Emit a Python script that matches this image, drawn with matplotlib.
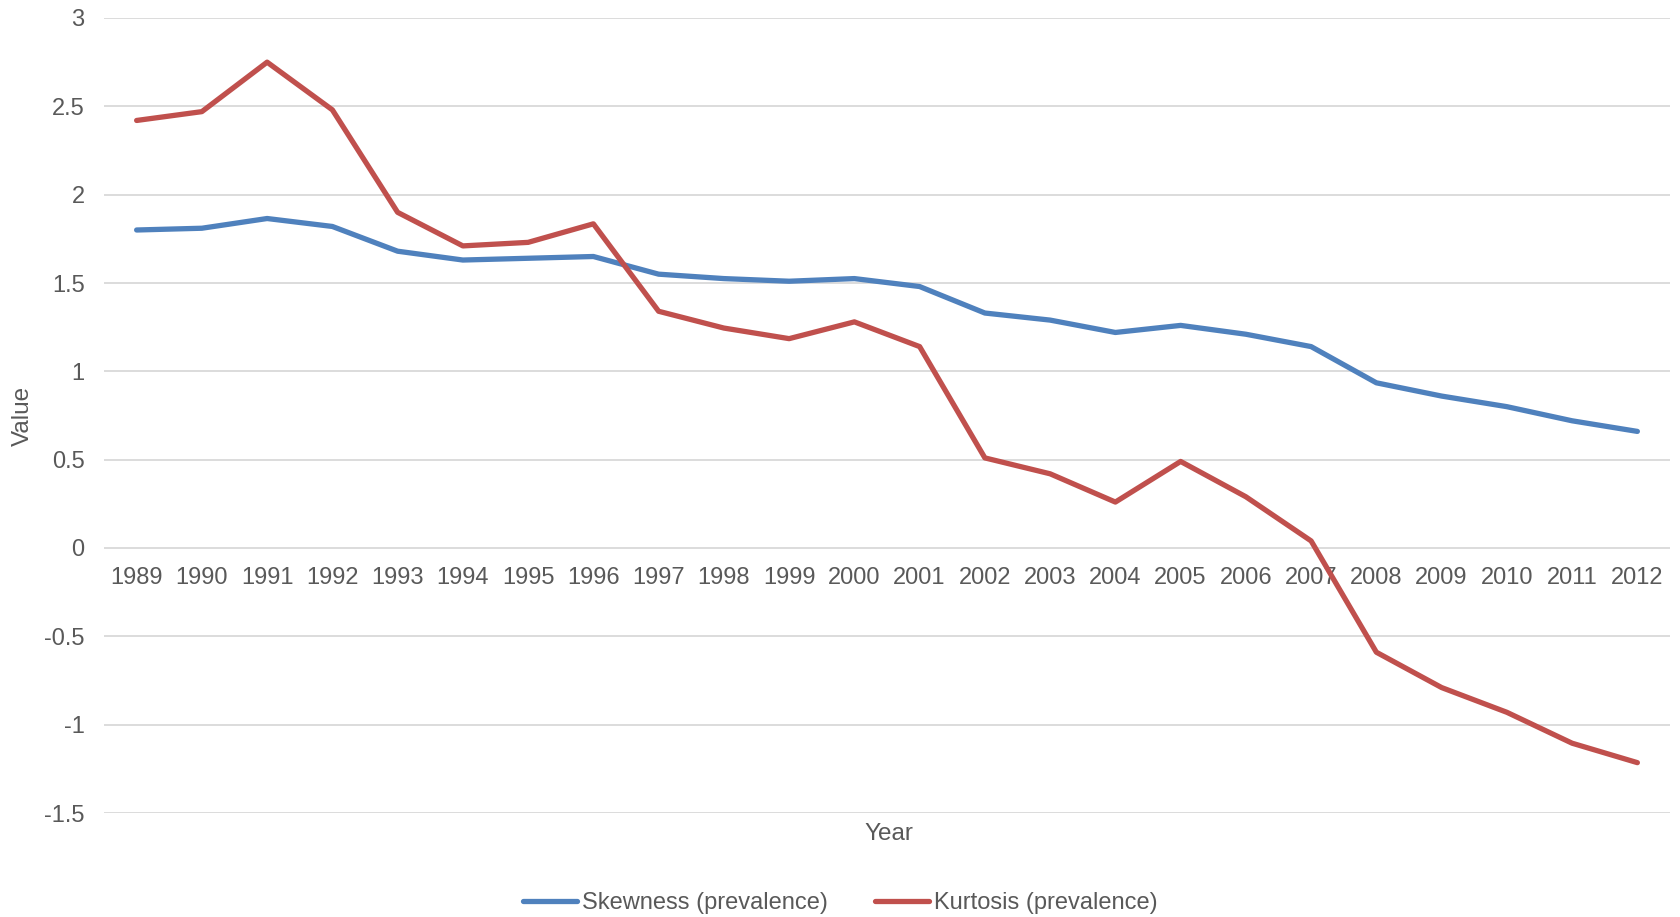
import numpy as np
import matplotlib
matplotlib.use('Agg')
import matplotlib.pyplot as plt

plt.rcParams['font.family'] = ['Liberation Sans', 'DejaVu Sans']

years = [str(y) for y in range(1989, 2013)]
skewness = [1.80, 1.81, 1.865, 1.82, 1.68, 1.63, 1.64, 1.65, 1.55, 1.525, 1.51, 1.525,
            1.48, 1.33, 1.29, 1.22, 1.26, 1.21, 1.14, 0.935, 0.86, 0.80, 0.72, 0.66]
kurtosis = [2.42, 2.47, 2.75, 2.48, 1.90, 1.71, 1.73, 1.835, 1.34, 1.245, 1.185, 1.28,
            1.14, 0.51, 0.42, 0.26, 0.49, 0.29, 0.04, -0.59, -0.79, -0.93, -1.105, -1.215]
yticks = [-1.5, -1, -0.5, 0, 0.5, 1, 1.5, 2, 2.5, 3]

txt = '#595959'
W, H = 1681, 917
fig = plt.figure(figsize=(W / 100, H / 100), dpi=100)
ax = fig.add_axes([104 / W, 1 - 813 / H, (1670 - 104) / W, (813 - 18) / H])

x = np.arange(len(years))
ax.plot(x, skewness, color='#4F81BD', lw=3.8, solid_capstyle='round',
        label='Skewness (prevalence)', zorder=3)
ax.plot(x, kurtosis, color='#C0504D', lw=3.8, solid_capstyle='round',
        label='Kurtosis (prevalence)', zorder=3)

ax.set_xlim(-0.5, len(years) - 0.5)
ax.set_ylim(-1.5, 3)
ax.set_yticks(yticks)
ax.set_yticklabels([f'{v:g}' for v in yticks])
ax.yaxis.grid(True, color='#D9D9D9', lw=1.3)
ax.set_axisbelow(True)

ax.set_xticks(x)
ax.set_xticklabels(years)
ax.spines['bottom'].set_position(('data', 0))
for s in ax.spines.values():
    s.set_visible(False)
ax.tick_params(axis='both', length=0, labelsize=17, labelcolor=txt)
ax.tick_params(axis='x', pad=14)
ax.tick_params(axis='y', pad=14)

fig.text(889 / W, 1 - 834 / H, 'Year', ha='center', va='center', fontsize=17.5, color=txt)
fig.text(23 / W, 1 - 416 / H, 'Value', ha='center', va='center', rotation=90,
         fontsize=17.5, color=txt)

leg = fig.legend(loc='center', bbox_to_anchor=(840 / W, 1 - 903 / H), ncol=2,
                 frameon=False, fontsize=17, handlelength=2.3, handletextpad=0.2,
                 columnspacing=2.0)
for t in leg.get_texts():
    t.set_color(txt)

fig.savefig('out.png', dpi=100)
